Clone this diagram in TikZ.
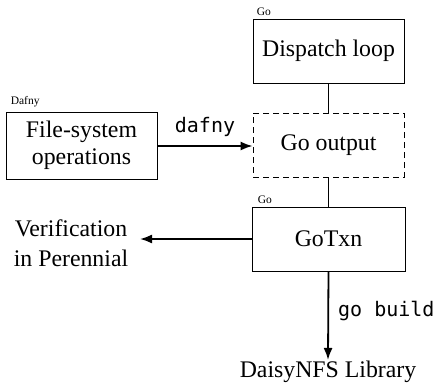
\documentclass[tikz,border=0pt]{standalone}
\usepackage{fontspec}
\setmainfont{Liberation Serif}
\setmonofont{DejaVu Sans Mono}
\usetikzlibrary{arrows.meta}
\tikzset{
  box/.style={draw, line width=0.8pt, inner sep=0pt, minimum width=151pt, minimum height=64pt, align=center, font=\fontsize{23.8}{27}\selectfont},
  dbox/.style={box, dashed, dash pattern=on 6pt off 4pt},
  txt/.style={inner sep=0pt, align=center, font=\fontsize{23.8}{30}\selectfont},
  small/.style={inner sep=0pt, font=\fontsize{11.5}{13}\selectfont},
  lab/.style={inner sep=0pt, font=\fontsize{20}{24}\selectfont\ttfamily},
  conn/.style={line width=1.8pt},
  arr/.style={conn, -{Latex[length=12pt, width=9pt]}}
}
\begin{document}
\begin{tikzpicture}[x=1pt, y=-1pt]
\useasboundingbox (0,0) rectangle (440,383);
\node[box] (disp) at (328.5,51) {Dispatch loop};
\node[dbox] (goout) at (328.5,145) {Go output};
\node[box, minimum height=67pt] (fs) at (81.5,145.5) {File-system\\operations};
\node[box, minimum width=153pt] (gotxn) at (328.5,239) {GoTxn};
\node[txt] (verif) at (71,243) {Verification\\in Perennial};
\coordinate (vend) at (140,239);
\node[txt, inner sep=1pt] (lib) at (328,372) {DaisyNFS Library};
\node[small, anchor=south west] (l1) at (disp.north west) [xshift=4pt, yshift=3pt] {Go};
\node[small, anchor=south west] (l2) at (fs.north west) [xshift=5pt, yshift=4pt] {Dafny};
\node[small, anchor=south west] (l3) at (gotxn.north west) [xshift=6pt, yshift=3pt] {Go};
\draw[conn] (disp) -- (goout);
\draw[conn] (goout) -- (gotxn);
\draw[arr] (fs.east |- 0,146) -- node[lab, above=8pt] (dl) {dafny} (goout.west |- 0,146);
\draw[arr] (gotxn.west) -- (vend);
\draw[arr] (gotxn.south) -- node[lab, right=9pt, pos=0.45] (gb) {go build} (lib.north);
\end{tikzpicture}
\end{document}
